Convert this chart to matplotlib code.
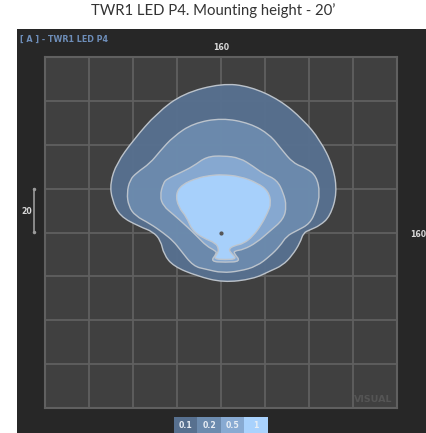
import matplotlib
matplotlib.use("Agg")
import matplotlib.pyplot as plt
from matplotlib.patches import Rectangle, PathPatch
from matplotlib.path import Path
import numpy as np

# ---- data (grid units, 1 grid cell = 1 unit, origin at luminaire) ----
levels = ["0.1", "0.2", "0.5", "1"]
level_colors = ["#57708f", "#6c8bae", "#88aad2", "#a9d2fd"]

outer_x = [0.02, 0.66, 1.34, 1.87, 2.25, 2.55, 2.64, 2.48, 2.25, 2.02, 1.87, 1.80, 1.62, 1.40, 1.11, 0.73, 0.05,
           -0.55, -1.08, -1.30, -1.37, -1.55, -1.84, -2.30, -2.48, -2.52, -2.37, -1.99, -1.46, -0.86]
outer_y = [3.40, 3.33, 3.02, 2.57, 2.11, 1.51, 0.90, 0.37, 0.16, 0.06, -0.01, -0.23, -0.52, -0.75, -0.88, -1.06, -1.14,
           -0.99, -0.77, -0.50, -0.18, 0.02, 0.13, 0.37, 0.75, 1.13, 1.58, 2.11, 2.72, 3.17]

c02_x = [0.02, 0.66, 1.11, 1.38, 1.64, 1.95, 2.17, 2.25, 2.17, 2.02, 1.72, 1.49, 1.34, 1.11, 0.81, 0.43, 0.02,
         -0.33, -0.63, -0.93, -1.08, -1.31, -1.61, -1.95, -2.10, -2.14, -2.07, -1.92, -1.61, -1.39, -1.08, -0.63]
c02_y = [2.61, 2.49, 2.23, 1.89, 1.58, 1.46, 1.28, 0.90, 0.52, 0.20, 0.04, -0.08, -0.31, -0.54, -0.77, -0.88, -0.92,
         -0.84, -0.77, -0.39, -0.20, -0.01, 0.20, 0.38, 0.60, 0.90, 1.20, 1.36, 1.58, 1.85, 2.19, 2.49]

c05_x = [0.05, 0.43, 0.73, 0.96, 1.27, 1.42, 1.49, 1.42, 1.11, 0.81, 0.51, 0.30, 0.30, 0.45, 0.10, -0.24, -0.10,
         -0.12, -0.33, -0.55, -0.78, -1.08, -1.31, -1.39, -1.31, -1.23, -0.93, -0.63, -0.33]
c05_y = [1.75, 1.70, 1.51, 1.34, 1.20, 0.90, 0.60, 0.30, 0.03, -0.23, -0.39, -0.42, -0.48, -0.66, -0.68, -0.66, -0.48,
         -0.42, -0.31, -0.08, 0.14, 0.41, 0.60, 0.83, 1.13, 1.22, 1.36, 1.51, 1.73]

c1_x = [0.02, 0.43, 0.83, 1.08, 1.14, 1.06, 0.92, 0.73, 0.52, 0.30, 0.17, 0.24, 0.36, 0.10, -0.17, -0.08, -0.05,
        -0.12, -0.40, -0.66, -0.78, -0.97, -1.03, -0.89, -0.55, -0.25]
c1_y = [1.32, 1.28, 1.13, 0.94, 0.66, 0.45, 0.18, -0.08, -0.25, -0.30, -0.38, -0.48, -0.60, -0.62, -0.60, -0.48, -0.38,
        -0.24, -0.13, 0.05, 0.35, 0.58, 0.88, 1.09, 1.24, 1.30]

contours = [(outer_x, outer_y), (c02_x, c02_y), (c05_x, c05_y), (c1_x, c1_y)]

title = "TWR1 LED P4. Mounting height - 20\u2019"
panel_label = "[ A ] - TWR1 LED P4"
top_label = "160"
right_label = "160"
left_label = "20"

W, H = 427, 433
fig = plt.figure(figsize=(W / 100, H / 100), dpi=100, facecolor="white")


def fx(px):
    return px / W


def fy(py):
    return 1 - py / H


# dark panel
fig.patches.append(Rectangle((fx(17), 0), 1 - fx(17), fy(29), transform=fig.transFigure,
                             facecolor="#272727", edgecolor="none", zorder=-5))

# main plot axes over the grid
ax = fig.add_axes([fx(45), fy(408), fx(397) - fx(45), fy(57) - fy(408)])
ax.set_zorder(1)
ax.set_facecolor("#404040")
ax.set_xlim(-4, 4)
ax.set_ylim(-4, 4)
ax.set_xticks(np.arange(-4, 5))
ax.set_yticks(np.arange(-4, 5))
ax.tick_params(length=0, labelbottom=False, labelleft=False)
ax.grid(True, color="#606060", lw=1.3, zorder=1)
ax.set_axisbelow(True)
for s in ax.spines.values():
    s.set_color("#606060")
    s.set_linewidth(1.5)


def smooth_path(xs, ys):
    pts = np.column_stack([xs, ys])
    n = len(pts)
    mids = (pts + np.roll(pts, -1, axis=0)) / 2
    verts = [mids[-1]]
    codes = [Path.MOVETO]
    for i in range(n):
        verts += [pts[i], mids[i]]
        codes += [Path.CURVE3, Path.CURVE3]
    verts.append(mids[-1])
    codes.append(Path.CLOSEPOLY)
    return Path(verts, codes)


for (xs, ys), col in zip(contours, level_colors):
    ax.add_patch(PathPatch(smooth_path(xs, ys), facecolor=col, edgecolor="#bfc6ce",
                           lw=1.0, zorder=3, alpha=0.97))

ax.plot([0], [0], marker="o", ms=2, color="#555555", zorder=5)

ax.text(3.9, -3.92, "VISUAL", color="#555555", fontsize=6.8, fontweight="bold",
        ha="right", va="bottom", zorder=2, family="DejaVu Sans")

# texts
fig.text(0.5, fy(11), title, ha="center", va="center", fontsize=10.7, color="#333333", family="Lato")
fig.text(fx(20), fy(39), panel_label, ha="left", va="center", fontsize=5.8, color="#6d8db8",
         fontweight="bold", family="DejaVu Sans")
fig.text(fx(221), fy(48), top_label, ha="center", va="center", fontsize=5.6, color="#d8d8d8",
         fontweight="bold", family="DejaVu Sans")
fig.text(fx(410), fy(234), right_label, ha="left", va="center", fontsize=5.6, color="#d8d8d8",
         fontweight="bold", family="DejaVu Sans")
fig.text(fx(27), fy(212), left_label, ha="center", va="center", fontsize=5.6, color="#d8d8d8",
         fontweight="bold", family="DejaVu Sans")

# scale bar on left
fig.add_artist(plt.Line2D([fx(34), fx(34)], [fy(189), fy(232)], transform=fig.transFigure,
                          color="#9a9a9a", lw=1.2, marker="o", ms=1.5))

# legend boxes
box_w = 23.5
x0 = 174
for i, (lab, col) in enumerate(zip(levels, level_colors)):
    fig.patches.append(Rectangle((fx(x0 + i * box_w), 0), fx(box_w), fy(417), transform=fig.transFigure,
                                 facecolor=col, edgecolor="none", zorder=2))
    fig.text(fx(x0 + i * box_w + box_w / 2), fy(426), lab, ha="center", va="center", fontsize=5.6,
             color="#e8eef5", fontweight="bold", family="DejaVu Sans")

fig.savefig("out.png", dpi=100, facecolor="white")
